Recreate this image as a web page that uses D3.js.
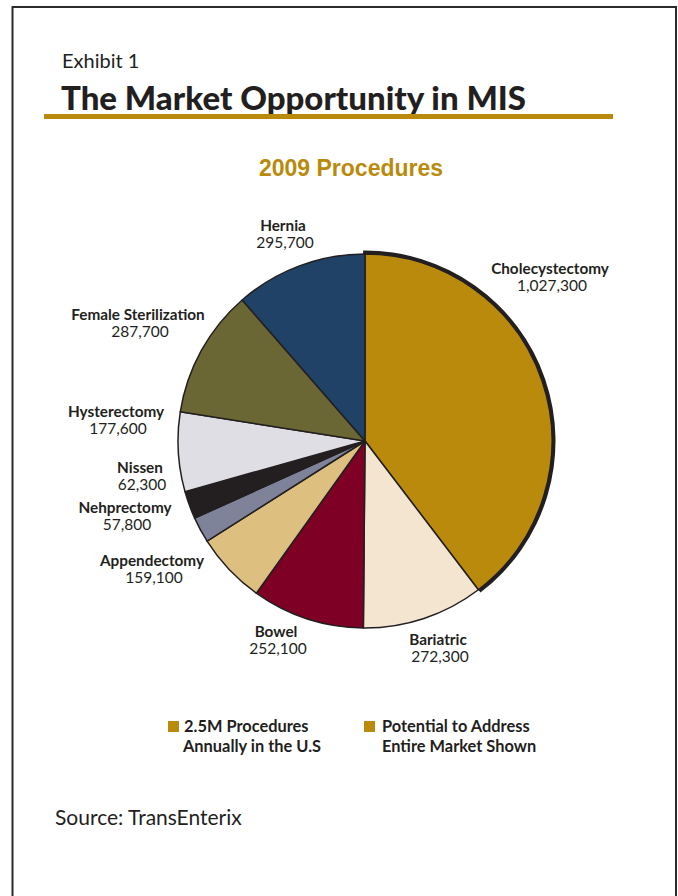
<!DOCTYPE html>
<html>
<head>
<meta charset="utf-8">
<script src="https://cdn.jsdelivr.net/npm/d3@7"></script>
<style>
  body { margin: 0; background: #fff; }
  svg { display: block; }
  .lbl-name { font-family: Lato, "Noto Sans", sans-serif; font-weight: bold; font-size: 15.3px; fill: #231f20; }
  .lbl-val { font-family: Lato, "Noto Sans", sans-serif; font-size: 15.5px; fill: #231f20; }
  .legend { font-family: Lato, "Noto Sans", sans-serif; font-weight: bold; font-size: 16.4px; fill: #231f20; }
</style>
</head>
<body>
<svg id="chart"></svg>
<script>
/* 2009 MIS procedures pie */
var procedures = ["Cholecystectomy", "Bariatric", "Bowel", "Appendectomy", "Nehprectomy",
                  "Nissen", "Hysterectomy", "Female Sterilization", "Hernia"];
var counts = [1027300, 272300, 252100, 159100, 57800, 62300, 177600, 287700, 295700];
var sliceColors = ["#b98a0b", "#f4e5d1", "#7e0025", "#ddbf80", "#7e839a",
                   "#231f20", "#dfdee5", "#6b6734", "#1f4266"];
var legendItems = [["2.5M Procedures", "Annually in the U.S"],
                   ["Potential to Address", "Entire Market Shown"]];

// label anchors (center x, baseline of name line)
var labelPos = {
  "Cholecystectomy": [550, 274],
  "Bariatric": [438, 645],
  "Bowel": [276, 637],
  "Appendectomy": [152, 566],
  "Nehprectomy": [125, 513],
  "Nissen": [140, 473],
  "Hysterectomy": [116, 417],
  "Female Sterilization": [138, 320],
  "Hernia": [283, 231]
};

var width = 678, height = 896;
var cx = 365, cy = 441, radius = 187;

var svg = d3.select("#chart")
    .attr("width", width)
    .attr("height", height);

// page frame
svg.append("path")
    .attr("d", "M12.5,896 L12.5,7 L676,7 L676,896")
    .attr("fill", "none")
    .attr("stroke", "#2b2b2b")
    .attr("stroke-width", 2);

svg.append("text")
    .attr("x", 62)
    .attr("y", 68)
    .style("font-family", "Lato, 'Open Sans', sans-serif")
    .style("font-size", "20px")
    .style("fill", "#231f20")
    .text("Exhibit 1");

svg.append("text")
    .attr("x", 61)
    .attr("y", 110)
    .style("font-family", "Lato, 'Open Sans', sans-serif")
    .style("font-weight", 900)
    .style("font-size", "33px")
    .style("fill", "#231f20")
    .text("The Market Opportunity in MIS");

svg.append("rect")
    .attr("x", 44)
    .attr("y", 114)
    .attr("width", 569)
    .attr("height", 5)
    .attr("fill", "#b98a0b");

svg.append("text")
    .attr("x", 351)
    .attr("y", 176)
    .attr("text-anchor", "middle")
    .style("font-family", "'Liberation Sans', Arial, sans-serif")
    .style("font-weight", "bold")
    .style("font-size", "23px")
    .style("fill", "#b98a0b")
    .text("2009 Procedures");

var data = procedures.map(function(d, i) {
  return {name: d, value: counts[i], color: sliceColors[i]};
});

var pie = d3.pie()
    .sort(null)
    .value(function(d) { return d.value; });

var arc = d3.arc()
    .innerRadius(0)
    .outerRadius(radius);

var arcs = pie(data);

var g = svg.append("g")
    .attr("transform", "translate(" + cx + "," + cy + ")");

g.selectAll("path.slice")
    .data(arcs)
  .enter().append("path")
    .attr("class", "slice")
    .attr("d", arc)
    .attr("fill", function(d) { return d.data.color; })
    .attr("stroke", "#231f20")
    .attr("stroke-width", 1.5)
    .attr("stroke-linejoin", "round");

// heavy rim on the largest slice
var rim = d3.arc()
    .innerRadius(radius)
    .outerRadius(radius + 3.5)
    .startAngle(arcs[0].startAngle - 0.01)
    .endAngle(arcs[0].endAngle);

g.append("path")
    .attr("d", rim())
    .attr("fill", "#231f20");

var fmt = d3.format(",");

var labels = svg.selectAll("g.lbl")
    .data(data)
  .enter().append("g")
    .attr("class", "lbl")
    .attr("transform", function(d) {
      var p = labelPos[d.name];
      return "translate(" + p[0] + "," + p[1] + ")";
    });

labels.append("text")
    .attr("class", "lbl-name")
    .attr("text-anchor", "middle")
    .text(function(d) { return d.name; });

labels.append("text")
    .attr("class", "lbl-val")
    .attr("text-anchor", "middle")
    .attr("x", 2)
    .attr("y", 17)
    .text(function(d) { return fmt(d.value); });

// legend
var legendX = [168, 364];
var leg = svg.selectAll("g.legend-item")
    .data(legendItems)
  .enter().append("g")
    .attr("class", "legend-item")
    .attr("transform", function(d, i) { return "translate(" + legendX[i] + ",721)"; });

leg.append("rect")
    .attr("width", 11)
    .attr("height", 11)
    .attr("fill", "#b98a0b");

leg.append("text")
    .attr("class", "legend")
    .attr("x", function(d, i) { return i === 0 ? 16 : 18; })
    .attr("y", 11)
    .text(function(d) { return d[0]; });

leg.append("text")
    .attr("class", "legend")
    .attr("x", function(d, i) { return i === 0 ? 15 : 18; })
    .attr("y", 31)
    .text(function(d) { return d[1]; });

svg.append("text")
    .attr("x", 55)
    .attr("y", 825)
    .style("font-family", "Lato, 'Open Sans', sans-serif")
    .style("font-size", "21px")
    .style("fill", "#231f20")
    .text("Source: TransEnterix");
</script>
</body>
</html>
